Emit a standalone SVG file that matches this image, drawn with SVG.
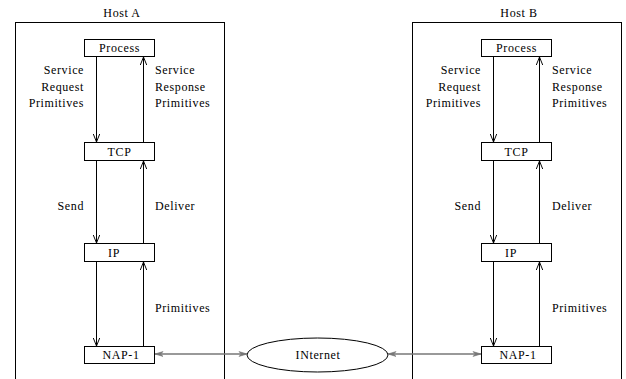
<svg xmlns="http://www.w3.org/2000/svg" width="626" height="379" viewBox="0 0 626 379">
<style>
text{font-family:"Liberation Serif","Times New Roman",serif;font-size:12px;letter-spacing:0.6px;fill:#000}
.c{text-anchor:middle}
.e{text-anchor:end}
.host{fill:none;stroke:#000;stroke-width:1}
.box{fill:#fff;stroke:#000;stroke-width:1}
.ar{fill:none;stroke:#000;stroke-width:1;marker-end:url(#v)}
.net{fill:none;stroke:#777;stroke-width:1.5;marker-start:url(#g);marker-end:url(#g)}
</style>
<defs>
<marker id="v" viewBox="0 0 10 10" refX="10" refY="5" markerWidth="8" markerHeight="8" markerUnits="userSpaceOnUse" orient="auto">
<path d="M0,1 L10,5 L0,9" fill="none" stroke="#000" stroke-width="1.2"/>
</marker>
<marker id="g" viewBox="0 0 10 10" refX="10" refY="5" markerWidth="10" markerHeight="8" markerUnits="userSpaceOnUse" orient="auto-start-reverse">
<path d="M0,2 L10,5 L0,8 L3,5 Z" fill="#777" stroke="#777" stroke-width="0.8"/>
</marker>
</defs>

<g id="hostA">
<rect class="host" x="15.5" y="22.5" width="209" height="370"/>
<text class="c" x="122" y="17">Host A</text>
</g>
<g id="hostB">
<rect class="host" x="412.5" y="22.5" width="209" height="370"/>
<text class="c" x="519" y="17">Host B</text>
</g>

<g id="processA"><rect class="box" x="84.5" y="39.5" width="70" height="17"/><text class="c" x="119.5" y="52">Process</text></g>
<g id="tcpA"><rect class="box" x="84.5" y="142.5" width="70" height="18"/><text class="c" x="119.5" y="156">TCP</text></g>
<g id="ipA"><rect class="box" x="84.5" y="243.5" width="70" height="18"/><text class="c" x="114" y="257">IP</text></g>
<g id="napA"><rect class="box" x="84.5" y="346.5" width="70" height="17"/><text class="c" x="121" y="359">NAP-1</text></g>

<g id="processB"><rect class="box" x="481.5" y="39.5" width="70" height="17"/><text class="c" x="516.5" y="52">Process</text></g>
<g id="tcpB"><rect class="box" x="481.5" y="142.5" width="70" height="18"/><text class="c" x="516.5" y="156">TCP</text></g>
<g id="ipB"><rect class="box" x="481.5" y="243.5" width="70" height="18"/><text class="c" x="511" y="257">IP</text></g>
<g id="napB"><rect class="box" x="481.5" y="346.5" width="70" height="17"/><text class="c" x="518" y="359">NAP-1</text></g>

<g id="internet"><ellipse cx="317.5" cy="355" rx="70.5" ry="17" fill="#fff" stroke="#000" stroke-width="1"/><text class="c" x="318" y="359">INternet</text></g>

<g id="connectors">
<path class="ar" d="M96.5,57 V142"/>
<path class="ar" d="M143.5,142 V57"/>
<path class="ar" d="M96.5,161 V243"/>
<path class="ar" d="M143.5,243 V161"/>
<path class="ar" d="M96.5,262 V346"/>
<path class="ar" d="M143.5,346 V262"/>
<path class="ar" d="M493.5,57 V142"/>
<path class="ar" d="M539.5,142 V57"/>
<path class="ar" d="M493.5,161 V243"/>
<path class="ar" d="M539.5,243 V161"/>
<path class="ar" d="M493.5,262 V346"/>
<path class="ar" d="M539.5,346 V262"/>
<path class="net" d="M155,354 H247"/>
<path class="net" d="M388,354 H481"/>
</g>

<g id="labels">
<text class="e" x="84" y="74">Service</text>
<text class="e" x="84" y="91">Request</text>
<text class="e" x="84" y="107">Primitives</text>
<text x="155" y="74">Service</text>
<text x="155" y="91">Response</text>
<text x="155" y="107">Primitives</text>
<text class="e" x="84" y="210">Send</text>
<text x="155" y="210">Deliver</text>
<text x="155" y="312">Primitives</text>
<text class="e" x="481" y="74">Service</text>
<text class="e" x="481" y="91">Request</text>
<text class="e" x="481" y="107">Primitives</text>
<text x="552" y="74">Service</text>
<text x="552" y="91">Response</text>
<text x="552" y="107">Primitives</text>
<text class="e" x="481" y="210">Send</text>
<text x="552" y="210">Deliver</text>
<text x="552" y="312">Primitives</text>
</g>
</svg>
